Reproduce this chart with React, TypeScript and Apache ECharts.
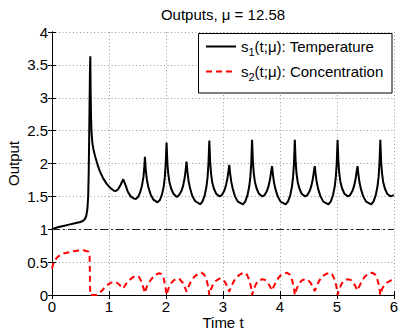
import React, { useEffect, useRef } from "react";
import * as echarts from "echarts";

const FONT = '"Liberation Sans", Arial, Helvetica, sans-serif';

const titleText = "Outputs, μ = 12.58";
const xAxisName = "Time t";
const yAxisName = "Output";
const xTicks = { min: 0, max: 6, interval: 1 };
const yTicks = { min: 0, max: 4, interval: 0.5 };
const referenceLevel = 1;

const tempTime = [
  0.0, 0.1, 0.2, 0.3, 0.4, 0.5, 0.55, 0.58, 0.6, 0.62, 0.635, 0.645, 0.655, 0.665, 0.672,
  0.678, 0.685, 0.695, 0.71, 0.73, 0.76, 0.8, 0.84, 0.9, 0.96, 1.02, 1.08, 1.12, 1.16, 1.2,
  1.25, 1.29, 1.33, 1.38, 1.43, 1.47, 1.51, 1.55, 1.58, 1.605, 1.62, 1.63, 1.645, 1.665, 1.69,
  1.73, 1.78, 1.85, 1.89, 1.93, 1.96, 1.98, 1.995, 2.01, 2.025, 2.04, 2.06, 2.09, 2.13, 2.19,
  2.23, 2.27, 2.3, 2.325, 2.345, 2.36, 2.375, 2.395, 2.42, 2.46, 2.51, 2.6, 2.64, 2.68, 2.71,
  2.73, 2.745, 2.76, 2.775, 2.79, 2.81, 2.84, 2.88, 2.94, 2.98, 3.02, 3.05, 3.075, 3.095, 3.11,
  3.125, 3.145, 3.17, 3.21, 3.26, 3.35, 3.39, 3.43, 3.46, 3.48, 3.495, 3.51, 3.525, 3.54, 3.56,
  3.59, 3.63, 3.69, 3.73, 3.77, 3.8, 3.825, 3.845, 3.86, 3.875, 3.895, 3.92, 3.96, 4.01, 4.1,
  4.14, 4.18, 4.21, 4.23, 4.245, 4.26, 4.275, 4.29, 4.31, 4.34, 4.38, 4.44, 4.48, 4.52, 4.55,
  4.575, 4.595, 4.61, 4.625, 4.645, 4.67, 4.71, 4.76, 4.85, 4.89, 4.93, 4.96, 4.98, 4.995, 5.01,
  5.025, 5.04, 5.06, 5.09, 5.13, 5.19, 5.23, 5.27, 5.3, 5.325, 5.345, 5.36, 5.375, 5.395, 5.42,
  5.46, 5.51, 5.6, 5.64, 5.68, 5.71, 5.73, 5.745, 5.76, 5.775, 5.79, 5.81, 5.84, 5.88, 5.94, 6.0,
];
const temperature = [
  1.0, 1.03, 1.05, 1.07, 1.09, 1.11, 1.13, 1.16, 1.2, 1.3, 1.5, 1.9, 2.6, 3.35, 3.63,
  3.1, 2.7, 2.45, 2.3, 2.2, 2.1, 1.98, 1.88, 1.77, 1.69, 1.63, 1.59, 1.58, 1.61, 1.67,
  1.76, 1.67, 1.57, 1.5, 1.47, 1.46, 1.49, 1.57, 1.67, 1.8, 1.95, 2.1, 1.9, 1.75, 1.64,
  1.53, 1.45, 1.41, 1.44, 1.53, 1.65, 1.8, 2.0, 2.32, 2.0, 1.84, 1.72, 1.62, 1.54, 1.49,
  1.52, 1.58, 1.66, 1.77, 1.9, 2.03, 1.88, 1.74, 1.63, 1.51, 1.43, 1.38, 1.42, 1.52, 1.65,
  1.8, 2.0, 2.35, 2.02, 1.85, 1.72, 1.62, 1.54, 1.5, 1.52, 1.58, 1.66, 1.76, 1.88, 1.98,
  1.85, 1.72, 1.62, 1.5, 1.42, 1.38, 1.42, 1.52, 1.65, 1.8, 2.0, 2.36, 2.02, 1.85, 1.72,
  1.62, 1.54, 1.5, 1.52, 1.58, 1.66, 1.76, 1.88, 1.96, 1.84, 1.71, 1.61, 1.5, 1.42, 1.38,
  1.42, 1.52, 1.65, 1.8, 2.0, 2.36, 2.02, 1.85, 1.72, 1.62, 1.54, 1.5, 1.52, 1.58, 1.66,
  1.76, 1.88, 1.96, 1.84, 1.71, 1.61, 1.5, 1.42, 1.38, 1.42, 1.52, 1.65, 1.8, 2.0, 2.36,
  2.02, 1.85, 1.72, 1.62, 1.54, 1.5, 1.52, 1.58, 1.66, 1.76, 1.88, 1.96, 1.84, 1.71, 1.61,
  1.5, 1.42, 1.38, 1.42, 1.52, 1.65, 1.8, 2.0, 2.36, 2.02, 1.85, 1.72, 1.62, 1.54, 1.5, 1.52,
];

const concTime = [
  0.0, 0.02, 0.05, 0.1, 0.15, 0.2, 0.3, 0.4, 0.5, 0.55, 0.6, 0.64, 0.66, 0.665, 0.67,
  0.78, 0.82, 0.87, 0.92, 0.97, 1.02, 1.08, 1.13, 1.18, 1.22, 1.25, 1.3, 1.36, 1.42, 1.48,
  1.52, 1.56, 1.6, 1.63, 1.66, 1.7, 1.76, 1.82, 1.88, 1.92, 1.96, 1.99, 2.01,
  2.04, 2.08, 2.13, 2.19, 2.24, 2.29, 2.33, 2.36, 2.39, 2.44, 2.5, 2.56, 2.62, 2.67, 2.71, 2.74, 2.76,
  2.79, 2.83, 2.88, 2.94, 2.99, 3.04, 3.08, 3.11, 3.14, 3.19, 3.25, 3.31, 3.37, 3.42, 3.46, 3.49, 3.51,
  3.54, 3.58, 3.63, 3.69, 3.74, 3.79, 3.83, 3.86, 3.89, 3.94, 4.0, 4.06, 4.12, 4.17, 4.21, 4.24, 4.26,
  4.29, 4.33, 4.38, 4.44, 4.49, 4.54, 4.58, 4.61, 4.64, 4.69, 4.75, 4.81, 4.87, 4.92, 4.96, 4.99, 5.01,
  5.04, 5.08, 5.13, 5.19, 5.24, 5.29, 5.33, 5.36, 5.39, 5.44, 5.5, 5.56, 5.62, 5.67, 5.71, 5.74, 5.76,
  5.79, 5.83, 5.88, 5.94, 6.0,
];
const concentration = [
  0.4, 0.47, 0.53, 0.58, 0.61, 0.63, 0.65, 0.67, 0.68, 0.68, 0.67, 0.66, 0.6, 0.3, 0.0,
  0.0, 0.02, 0.06, 0.11, 0.15, 0.18, 0.2, 0.19, 0.16, 0.12, 0.1, 0.17, 0.23, 0.27, 0.29,
  0.28, 0.22, 0.12, 0.03, 0.12, 0.19, 0.26, 0.31, 0.33, 0.32, 0.25, 0.12, 0.0,
  0.09, 0.17, 0.22, 0.25, 0.24, 0.19, 0.12, 0.05, 0.12, 0.21, 0.28, 0.32, 0.34, 0.31, 0.23, 0.13, 0.0,
  0.09, 0.17, 0.22, 0.25, 0.24, 0.19, 0.12, 0.05, 0.12, 0.21, 0.28, 0.32, 0.34, 0.31, 0.23, 0.13, 0.0,
  0.09, 0.17, 0.22, 0.24, 0.23, 0.18, 0.12, 0.07, 0.13, 0.22, 0.29, 0.32, 0.34, 0.31, 0.23, 0.13, 0.0,
  0.09, 0.17, 0.22, 0.24, 0.23, 0.18, 0.12, 0.06, 0.13, 0.22, 0.29, 0.32, 0.34, 0.31, 0.23, 0.13, 0.0,
  0.09, 0.17, 0.22, 0.24, 0.23, 0.18, 0.12, 0.07, 0.13, 0.22, 0.29, 0.32, 0.34, 0.31, 0.23, 0.13, 0.0,
  0.09, 0.15, 0.19, 0.22, 0.23,
];

const seriesNames = ["Temperature", "Concentration"];
const legendLabels: Record<string, string> = {
  Temperature: "{n|s}{s|1}{n|(t;μ): Temperature}",
  Concentration: "{n|s}{s|2}{n|(t;μ): Concentration}",
};

const gridLine = { color: "#9a9a9a", type: [1, 2.5] as number[], width: 1 };
const axisBlack = { color: "#000", width: 1 };

export default function App() {
  const ref = useRef<HTMLDivElement>(null);
  useEffect(() => {
    if (!ref.current) return;
    const chart = echarts.init(ref.current, null, { renderer: "svg" });
    const tempData = tempTime.map((t, i) => [t, temperature[i]]);
    const concData = concTime.map((t, i) => [t, concentration[i]]);
    chart.setOption({
      animation: false,
      backgroundColor: "#fff",
      textStyle: { fontFamily: FONT },
      grid: {
        left: 52,
        right: 5,
        top: 32,
        bottom: 35,
        containLabel: false,
        outerBoundsMode: "none",
      },
      graphic: [
        {
          type: "text",
          x: 223,
          y: 14,
          style: {
            text: titleText,
            fontSize: 15,
            fontFamily: FONT,
            fill: "#000",
            align: "center",
            verticalAlign: "middle",
            textAlign: "center",
            textVerticalAlign: "middle",
          },
        },
        {
          type: "rect",
          z: 3,
          shape: { x: 198.5, y: 33.5, width: 193.5, height: 59.5 },
          style: { fill: "#fff", stroke: "#000", lineWidth: 1 },
        },
      ],
      legend: {
        data: seriesNames,
        orient: "vertical",
        left: 205,
        top: 39,
        z: 5,
        itemWidth: 30,
        itemHeight: 14,
        itemGap: 7,
        padding: 0,
        selectedMode: false,
        itemStyle: { opacity: 0, borderWidth: 0 },
        formatter: (name: string) => legendLabels[name],
        textStyle: {
          fontFamily: FONT,
          color: "#000",
          rich: {
            n: { fontSize: 15, fontFamily: FONT, color: "#000" },
            s: {
              fontSize: 11,
              fontFamily: FONT,
              color: "#000",
              verticalAlign: "bottom",
              padding: [10, 0, 0, 0],
            },
          },
        },
      },
      xAxis: [
        {
          type: "value",
          min: xTicks.min,
          max: xTicks.max,
          interval: xTicks.interval,
          position: "bottom",
          name: xAxisName,
          nameLocation: "middle",
          nameGap: 21,
          nameMoveOverlap: false,
          nameTextStyle: { fontSize: 15, lineHeight: 13, color: "#000", fontFamily: FONT },
          axisLine: { show: true, lineStyle: axisBlack },
          axisTick: { show: true, inside: true, length: 4, lineStyle: axisBlack },
          axisLabel: { fontSize: 15, lineHeight: 13, color: "#000", margin: 5, fontFamily: FONT },
          splitLine: { show: true, lineStyle: gridLine },
        },
        {
          type: "value",
          min: xTicks.min,
          max: xTicks.max,
          interval: xTicks.interval,
          position: "top",
          axisLine: { show: true, lineStyle: axisBlack },
          axisTick: { show: true, inside: true, length: 4, lineStyle: axisBlack },
          axisLabel: { show: false },
          splitLine: { show: false },
        },
      ],
      yAxis: [
        {
          type: "value",
          min: yTicks.min,
          max: yTicks.max,
          interval: yTicks.interval,
          position: "left",
          name: yAxisName,
          nameLocation: "middle",
          nameGap: 31,
          nameMoveOverlap: false,
          nameTextStyle: { fontSize: 15, color: "#000", fontFamily: FONT },
          axisLine: { show: true, lineStyle: axisBlack },
          axisTick: { show: true, inside: true, length: 4, lineStyle: axisBlack },
          axisLabel: { fontSize: 15, color: "#000", margin: 4, fontFamily: FONT },
          splitLine: { show: true, lineStyle: gridLine },
        },
        {
          type: "value",
          min: yTicks.min,
          max: yTicks.max,
          interval: yTicks.interval,
          position: "right",
          axisLine: { show: true, lineStyle: axisBlack },
          axisTick: { show: true, inside: true, length: 4, lineStyle: axisBlack },
          axisLabel: { show: false },
          splitLine: { show: false },
        },
      ],
      series: [
        {
          name: seriesNames[0],
          type: "line",
          data: tempData,
          symbol: "none",
          showSymbol: false,
          smooth: false,
          z: 2,
          lineStyle: { color: "#000", width: 2 },
          itemStyle: { color: "#000" },
          markLine: {
            silent: true,
            symbol: ["none", "none"],
            label: { show: false },
            lineStyle: { color: "#222", width: 1, type: [8, 3, 2, 3] },
            data: [{ yAxis: referenceLevel }],
          },
        },
        {
          name: seriesNames[1],
          type: "line",
          data: concData,
          symbol: "none",
          showSymbol: false,
          smooth: false,
          z: 2,
          lineStyle: { color: "#ff0000", width: 2, type: [6, 4] },
          itemStyle: { color: "#ff0000" },
        },
      ],
    });
    return () => chart.dispose();
  }, []);
  return (
    <div
      ref={ref}
      style={{ position: "absolute", left: 0, top: 0, width: 399, height: 330 }}
    />
  );
}
